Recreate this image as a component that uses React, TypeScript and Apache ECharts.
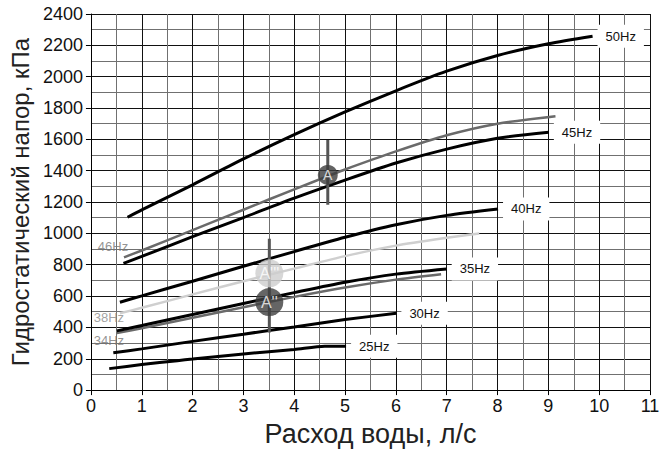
import React, { useEffect, useRef } from "react";
import * as echarts from "echarts";

// Flow (l/s) and head (kPa), per pump frequency
const flow50 = [0.72, 1, 2, 3, 4, 5, 6, 7, 8, 9, 9.87];
const head50 = [1103, 1150, 1310, 1475, 1630, 1775, 1910, 2035, 2135, 2210, 2258];
const flow46 = [0.65, 1, 2, 3, 4, 4.66, 5, 6, 7, 8, 9.14];
const head46 = [847, 891, 1021, 1151, 1281, 1365, 1408, 1523, 1626, 1700, 1748];
const flow45 = [0.64, 1, 2, 3, 4, 5, 6, 7, 8, 9.01];
const head45 = [809, 853, 979, 1101, 1225, 1340, 1449, 1538, 1607, 1645];
const flow40 = [0.57, 1, 2, 3, 4, 5, 6, 7, 8.01];
const head40 = [561, 601, 695, 790, 884, 975, 1055, 1115, 1156];
const flow38 = [0.57, 1, 2, 3, 4, 5, 6, 7, 7.64];
const head38 = [490, 525, 611, 695, 775, 855, 922, 972, 1000];
const flow35 = [0.51, 1, 2, 3, 4, 5, 6, 7];
const head35 = [378, 412, 483, 553, 622, 688, 740, 773];
const flow34 = [0.51, 1, 2, 3, 4, 5, 6, 6.89];
const head34 = [364, 395, 462, 529, 595, 655, 705, 740];
const flow30 = [0.44, 1, 2, 3, 4, 5, 6.01];
const head30 = [238, 263, 311, 357, 403, 450, 490];
const flow25 = [0.36, 1, 1.7, 2, 3, 4, 4.6, 5.02];
const head25 = [137, 163, 188, 198, 231, 259, 280, 280];

// Operating points
const markerNames = ["A", "A'''", "A''"];
const markerFlow = [4.66, 3.51, 3.51];
const markerHead = [1373, 745, 562];
const guideFlow = [4.66, 3.51];
const guideLow = [1183, 367];
const guideHigh = [1596, 966];

const xTitle = "Расход воды, л/с";
const yTitle = "Гидростатический напор, кПа";

const FONT = "Liberation Sans, Arial, Helvetica, sans-serif";

const zip = (xs: number[], ys: number[]) => xs.map((x, i) => [x, ys[i]]);

export default function App() {
  const ref = useRef<HTMLDivElement>(null);
  useEffect(() => {
    if (!ref.current) return;
    const chart = echarts.init(ref.current, null, { renderer: "svg" });

    const mainCurve = (name: string, xs: number[], ys: number[]) => ({
      type: "line",
      name,
      data: zip(xs, ys),
      smooth: 0.25,
      showSymbol: false,
      silent: true,
      z: 3,
      lineStyle: { color: "#000", width: 3, cap: "butt" },
      endLabel: {
        show: true,
        formatter: (p: any) => p.seriesName,
        backgroundColor: "#fff",
        padding: [5, 8],
        distance: 5,
        fontSize: 13,
        fontFamily: FONT,
        color: "#111",
      },
    });
    const greyCurve = (name: string, xs: number[], ys: number[], color: string) => ({
      type: "line",
      name,
      data: zip(xs, ys),
      smooth: 0.25,
      showSymbol: false,
      silent: true,
      z: 2,
      lineStyle: { color, width: 2.5, cap: "butt" },
    });

    const markerColors = ["#3c3c3c", "#cdcdcd", "#3e3e3e"];
    const markerSizes = [20, 28, 28];
    const markerFont = [14, 16, 16];

    const series: any[] = [
      greyCurve("46Hz", flow46, head46, "#6a6a6a"),
      greyCurve("38Hz", flow38, head38, "#cfcfcf"),
      greyCurve("34Hz", flow34, head34, "#6a6a6a"),
      mainCurve("50Hz", flow50, head50),
      mainCurve("45Hz", flow45, head45),
      mainCurve("40Hz", flow40, head40),
      mainCurve("35Hz", flow35, head35),
      mainCurve("30Hz", flow30, head30),
      mainCurve("25Hz", flow25, head25),
      ...guideFlow.map((x, i) => ({
        type: "line",
        data: [
          [x, guideLow[i]],
          [x, guideHigh[i]],
        ],
        showSymbol: false,
        silent: true,
        z: 4,
        lineStyle: { color: "#555", width: 3, cap: "butt" },
      })),
      {
        type: "scatter",
        silent: true,
        z: 5,
        data: markerNames.map((n, i) => ({
          name: n,
          value: [markerFlow[i], markerHead[i]],
          symbolSize: markerSizes[i],
          itemStyle: { color: markerColors[i] },
          label: { fontSize: markerFont[i] },
        })),
        label: {
          show: true,
          position: "inside",
          formatter: (p: any) => p.name,
          color: "#fff",
          fontFamily: FONT,
        },
      },
      {
        type: "scatter",
        silent: true,
        z: 6,
        symbolSize: 1,
        itemStyle: { color: "rgba(0,0,0,0)" },
        data: [
          { name: "46Hz", value: [flow46[0], head46[0]], label: { offset: [-11, -11], color: "#777" } },
          { name: "38Hz", value: [flow38[0], head38[0]], label: { offset: [-11, 4], color: "#8a8a8a" } },
          { name: "34Hz", value: [flow34[0], head34[0]], label: { offset: [-8, 7], color: "#777" } },
        ],
        label: {
          show: true,
          position: "inside",
          formatter: (p: any) => p.name,
          fontSize: 13,
          fontFamily: FONT,
        },
      },
    ];

    chart.setOption({
      animation: false,
      backgroundColor: "#fff",
      grid: { left: 88, right: 20, top: 14, bottom: 57, containLabel: false },
      xAxis: {
        type: "value",
        min: 0,
        max: 11,
        interval: 1,
        name: xTitle,
        nameLocation: "middle",
        nameGap: 26,
        nameTextStyle: { fontSize: 27, fontFamily: FONT, color: "#222" },
        axisLine: { show: true, lineStyle: { color: "#000", width: 1 } },
        axisTick: { show: true, length: 5, lineStyle: { color: "#000" } },
        axisLabel: { fontSize: 18, fontFamily: FONT, color: "#111", margin: 7 },
        splitLine: { show: true, lineStyle: { color: "#111", width: 1 } },
        minorTick: { show: false, splitNumber: 2 },
        minorSplitLine: { show: true, lineStyle: { color: "#707070", width: 1 } },
      },
      yAxis: {
        type: "value",
        min: 0,
        max: 2400,
        interval: 200,
        name: yTitle,
        nameLocation: "middle",
        nameGap: 57,
        nameTextStyle: { fontSize: 24, fontFamily: FONT, color: "#222" },
        axisLine: { show: true, lineStyle: { color: "#000", width: 1 } },
        axisTick: { show: true, length: 5, lineStyle: { color: "#000" } },
        axisLabel: {
          fontSize: 18,
          fontFamily: FONT,
          color: "#111",
          margin: 8,
          formatter: (v: number) => String(v),
        },
        splitLine: { show: true, lineStyle: { color: "#111", width: 1 } },
        minorTick: { show: false, splitNumber: 2 },
        minorSplitLine: { show: true, lineStyle: { color: "#707070", width: 1 } },
      },
      series,
    });
    return () => chart.dispose();
  }, []);
  return <div ref={ref} style={{ width: 670, height: 452, position: "absolute", left: 0, top: 0 }} />;
}
